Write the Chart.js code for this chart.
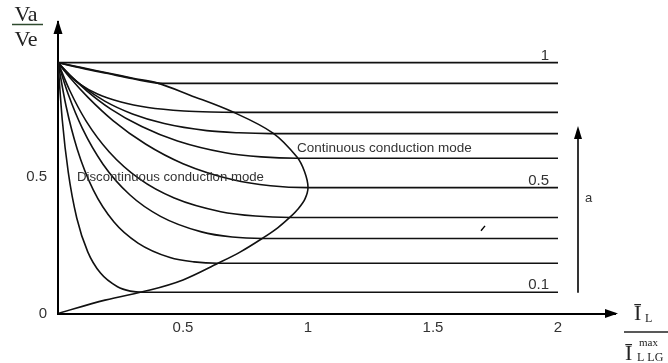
<!DOCTYPE html>
<html>
<head>
<meta charset="utf-8">
<script src="https://cdn.jsdelivr.net/npm/chart.js@4.4.0/dist/chart.umd.min.js"></script>
<style>
  html, body { margin: 0; padding: 0; background: #fff; }
  #wrap { width: 668px; height: 363px; }
</style>
</head>
<body>
<div id="wrap"><canvas id="chart" width="668" height="363"></canvas></div>
<script>
// Tick labels
const xTicks = [0.5, 1, 1.5, 2];
const yTicks = [0, 0.5];

// Duty ratio a (parameter of each curve) and the level of its flat part
const aLabels = ['1', '0.9', '0.8', '0.7', '0.6', '0.5', '0.4', '0.3', '0.2', '0.1'];
const levels = [0.919, 0.843, 0.737, 0.659, 0.569, 0.461, 0.352, 0.275, 0.184, 0.078];
const xEnd = 2.0;

// Discontinuous part of each curve
const a09X = [0, 0.1, 0.2, 0.3, 0.42];
const a09Y = [0.919, 0.898, 0.879, 0.860, 0.843];
const a08X = [0, 0.036, 0.086, 0.158, 0.252, 0.36, 0.504, 0.612, 0.72];
const a08Y = [0.919, 0.880, 0.841, 0.804, 0.775, 0.755, 0.742, 0.738, 0.737];
const a07X = [0, 0.043, 0.102, 0.187, 0.298, 0.425, 0.595, 0.723, 0.85];
const a07Y = [0.919, 0.877, 0.830, 0.778, 0.731, 0.696, 0.670, 0.662, 0.659];
const a06X = [0, 0.048, 0.115, 0.21, 0.335, 0.478, 0.669, 0.813, 0.956];
const a06Y = [0.919, 0.873, 0.816, 0.750, 0.685, 0.632, 0.589, 0.574, 0.569];
const a05X = [0, 0.05, 0.12, 0.22, 0.35, 0.5, 0.7, 0.85, 1.0];
const a05Y = [0.919, 0.862, 0.792, 0.707, 0.621, 0.549, 0.490, 0.468, 0.461];
const a04X = [0, 0.047, 0.112, 0.205, 0.326, 0.465, 0.651, 0.79, 0.93];
const a04Y = [0.919, 0.817, 0.706, 0.592, 0.493, 0.423, 0.373, 0.357, 0.352];
const a03X = [0, 0.041, 0.098, 0.18, 0.287, 0.41, 0.574, 0.697, 0.82];
const a03Y = [0.919, 0.803, 0.677, 0.547, 0.435, 0.356, 0.299, 0.28, 0.275];
const a02X = [0, 0.032, 0.077, 0.141, 0.224, 0.32, 0.448, 0.544, 0.64];
const a02Y = [0.919, 0.761, 0.602, 0.453, 0.335, 0.258, 0.205, 0.189, 0.184];
const a01X = [0, 0.017, 0.041, 0.075, 0.119, 0.17, 0.238, 0.289, 0.34];
const a01Y = [0.919, 0.71, 0.518, 0.35, 0.226, 0.148, 0.098, 0.082, 0.078];

// Boundary between the two conduction modes
const boundX = [0, 0.1, 0.2, 0.3, 0.396, 0.528, 0.70, 0.86, 0.956, 0.986, 1.0, 0.988, 0.962, 0.928, 0.88, 0.82, 0.728, 0.64, 0.50, 0.368, 0.188, 0];
const boundY = [0.919, 0.900, 0.881, 0.862, 0.845, 0.80, 0.738, 0.661, 0.573, 0.52, 0.463, 0.42, 0.385, 0.353, 0.315, 0.277, 0.225, 0.184, 0.123, 0.086, 0.049, 0];

const curveXs = [[0], a09X, a08X, a07X, a06X, a05X, a04X, a03X, a02X, a01X];
const curveYs = [[0.919], a09Y, a08Y, a07Y, a06Y, a05Y, a04Y, a03Y, a02Y, a01Y];

function toPoints(xs, ys) {
    return xs.map((x, i) => ({ x: x, y: ys[i] }));
}

const datasets = curveXs.map((xs, i) => {
    const pts = toPoints(xs, curveYs[i]);
    pts.push({ x: xEnd, y: levels[i] });
    return {
        label: 'a = ' + aLabels[i],
        data: pts,
        showLine: true,
        borderColor: '#111',
        borderWidth: 1.6,
        pointRadius: 0,
        cubicInterpolationMode: 'monotone',
        fill: false
    };
});

datasets.push({
    label: 'boundary',
    data: toPoints(boundX, boundY),
    showLine: true,
    borderColor: '#111',
    borderWidth: 1.6,
    pointRadius: 0,
    tension: 0.35,
    fill: false
});

// Arrows, annotations and axis titles
const decor = {
    id: 'decor',
    afterDraw(chart) {
        const ctx = chart.ctx;
        const xs = chart.scales.x;
        const ys = chart.scales.y;
        const area = chart.chartArea;
        ctx.save();
        ctx.fillStyle = '#000';
        ctx.strokeStyle = '#000';

        // axis arrowheads
        ctx.beginPath();
        ctx.moveTo(area.left, area.top - 2);
        ctx.lineTo(area.left - 4.5, area.top + 12);
        ctx.lineTo(area.left + 4.5, area.top + 12);
        ctx.closePath();
        ctx.fill();
        ctx.beginPath();
        ctx.moveTo(area.right + 3, area.bottom);
        ctx.lineTo(area.right - 10, area.bottom - 4.5);
        ctx.lineTo(area.right - 10, area.bottom + 4.5);
        ctx.closePath();
        ctx.fill();

        // arrow for increasing a
        const ax = xs.getPixelForValue(2.08);
        const aTop = ys.getPixelForValue(0.687);
        const aBot = ys.getPixelForValue(0.076);
        ctx.lineWidth = 1.6;
        ctx.beginPath();
        ctx.moveTo(ax, aBot);
        ctx.lineTo(ax, aTop + 10);
        ctx.stroke();
        ctx.beginPath();
        ctx.moveTo(ax, aTop);
        ctx.lineTo(ax - 4, aTop + 13);
        ctx.lineTo(ax + 4, aTop + 13);
        ctx.closePath();
        ctx.fill();

        // small stray tick between the 0.4 and 0.3 lines
        ctx.lineWidth = 1.4;
        ctx.beginPath();
        ctx.moveTo(xs.getPixelForValue(1.692), ys.getPixelForValue(0.303));
        ctx.lineTo(xs.getPixelForValue(1.708), ys.getPixelForValue(0.321));
        ctx.stroke();

        ctx.fillStyle = '#333';
        ctx.font = '13px "Liberation Sans", Arial, sans-serif';
        ctx.textAlign = 'left';
        ctx.textBaseline = 'middle';
        ctx.fillText('a', ax + 7, ys.getPixelForValue(0.42));

        // labels of a on the flat lines
        ctx.font = '15px "Liberation Sans", Arial, sans-serif';
        ctx.textAlign = 'right';
        ctx.textBaseline = 'alphabetic';
        const lx = xs.getPixelForValue(1.964);
        [0, 5, 9].forEach(i => {
            ctx.fillText(aLabels[i], lx, ys.getPixelForValue(levels[i]) - 3);
        });

        // mode labels
        ctx.font = '13.5px "Liberation Sans", Arial, sans-serif';
        ctx.textAlign = 'left';
        ctx.textBaseline = 'middle';
        ctx.fillText('Continuous conduction mode', xs.getPixelForValue(0.956), ys.getPixelForValue(0.606));
        ctx.font = '13.2px "Liberation Sans", Arial, sans-serif';
        ctx.fillText('Discontinuous conduction mode', xs.getPixelForValue(0.076), ys.getPixelForValue(0.5));

        // y title: Va / Ve
        ctx.fillStyle = '#222';
        ctx.font = '22px "Liberation Serif", "DejaVu Serif", serif';
        ctx.textAlign = 'center';
        ctx.textBaseline = 'alphabetic';
        ctx.fillText('Va', 26, 21);
        ctx.fillText('Ve', 26, 46);
        ctx.strokeStyle = '#2e4a2e';
        ctx.lineWidth = 1.5;
        ctx.beginPath();
        ctx.moveTo(12, 24.5);
        ctx.lineTo(43, 24.5);
        ctx.stroke();

        // x title: I_L / I_LLG^max
        ctx.textAlign = 'left';
        ctx.font = '22px "Liberation Serif", "DejaVu Serif", serif';
        ctx.fillText('\u012A', 634, 320);
        ctx.fillText('\u012A', 625, 360);
        ctx.font = '12px "Liberation Serif", "DejaVu Serif", serif';
        ctx.fillText('L', 645, 322);
        ctx.fillText('L LG', 637, 361);
        ctx.font = '11px "Liberation Serif", "DejaVu Serif", serif';
        ctx.fillText('max', 639, 346);
        ctx.strokeStyle = '#222';
        ctx.lineWidth = 1.5;
        ctx.beginPath();
        ctx.moveTo(624, 332);
        ctx.lineTo(668, 332);
        ctx.stroke();
        ctx.restore();
    }
};

new Chart(document.getElementById('chart'), {
    type: 'scatter',
    data: { datasets: datasets },
    options: {
        responsive: false,
        animation: false,
        devicePixelRatio: 1,
        layout: { padding: { top: 22, right: 53, left: 0, bottom: 0 } },
        plugins: {
            legend: { display: false },
            tooltip: { enabled: false }
        },
        scales: {
            x: {
                type: 'linear',
                min: 0,
                max: 2.228,
                afterBuildTicks: scale => { scale.ticks = xTicks.map(v => ({ value: v })); },
                afterFit: scale => { scale.height = 49.5; },
                grid: { display: false, drawTicks: false },
                border: { display: true, color: '#000', width: 2 },
                ticks: {
                    color: '#333',
                    padding: 5,
                    maxRotation: 0,
                    callback: v => String(v),
                    font: { family: '"Liberation Sans", Arial, sans-serif', size: 15 }
                }
            },
            y: {
                type: 'linear',
                min: 0,
                max: 1.068,
                afterBuildTicks: scale => { scale.ticks = yTicks.map(v => ({ value: v })); },
                afterFit: scale => { scale.width = 58; },
                grid: { display: false, drawTicks: false },
                border: { display: true, color: '#000', width: 2 },
                ticks: {
                    color: '#333',
                    padding: 11,
                    callback: v => String(v),
                    font: { family: '"Liberation Sans", Arial, sans-serif', size: 15 }
                }
            }
        }
    },
    plugins: [decor]
});
</script>
</body>
</html>
